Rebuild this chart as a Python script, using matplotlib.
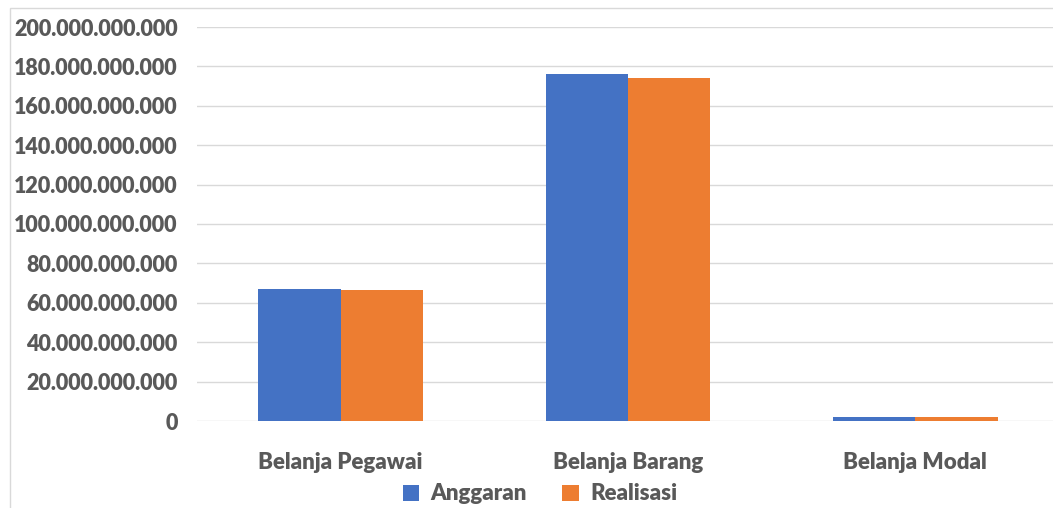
import numpy as np
import matplotlib.pyplot as plt
from matplotlib.ticker import FuncFormatter

# Data
categories = ['Belanja Pegawai', 'Belanja Barang', 'Belanja Modal']
anggaran = [66.8e9, 176.2e9, 2.0e9]
realisasi = [66.6e9, 174.3e9, 2.0e9]
yticks = np.arange(0, 200e9 + 1, 20e9)

blue = '#4472C4'
orange = '#ED7D31'
text_col = '#595959'

plt.rcParams['font.family'] = ['Lato', 'DejaVu Sans']
wt = 800

fig = plt.figure(figsize=(10.53, 5.08), dpi=100)
ax = fig.add_axes([197 / 1053, 1 - 421 / 508, 862 / 1053, 394 / 508])

x = np.arange(len(categories))
w = 0.287
ax.bar(x - w / 2, anggaran, w, color=blue, label='Anggaran', zorder=3)
ax.bar(x + w / 2, realisasi, w, color=orange, label='Realisasi', zorder=3)

ax.set_xlim(-0.5, 2.5)
ax.set_ylim(0, 200e9)
ax.set_yticks(yticks)
ax.yaxis.set_major_formatter(FuncFormatter(lambda v, p: f'{int(round(v)):,}'.replace(',', '.')))
ax.set_xticks(x)
ax.set_xticklabels(categories)
ax.grid(axis='y', color='#D9D9D9', linewidth=1, zorder=0)
for s in ax.spines.values():
    s.set_visible(False)
ax.tick_params(axis='both', length=0, colors=text_col)
ax.tick_params(axis='y', pad=14, labelsize=15.5)
ax.tick_params(axis='x', pad=22, labelsize=16)
for lbl in ax.get_yticklabels() + ax.get_xticklabels():
    lbl.set_fontweight(wt)

leg = fig.legend(loc='center', bbox_to_anchor=(540 / 1053, 1 - 494 / 508), ncol=2,
                 frameon=False, handlelength=0.75, handleheight=0.75, columnspacing=1.6,
                 handletextpad=0.5, prop={'family': ['Lato'], 'size': 16, 'weight': wt})
for t in leg.get_texts():
    t.set_color(text_col)

# light chart border
fig.patches.append(plt.Rectangle((10 / 1053, -0.01), 1.1, 1 - 8 / 508 + 0.01,
                                 transform=fig.transFigure, fill=False,
                                 edgecolor='#D9D9D9', linewidth=1))

fig.savefig('out.png', dpi=100)
